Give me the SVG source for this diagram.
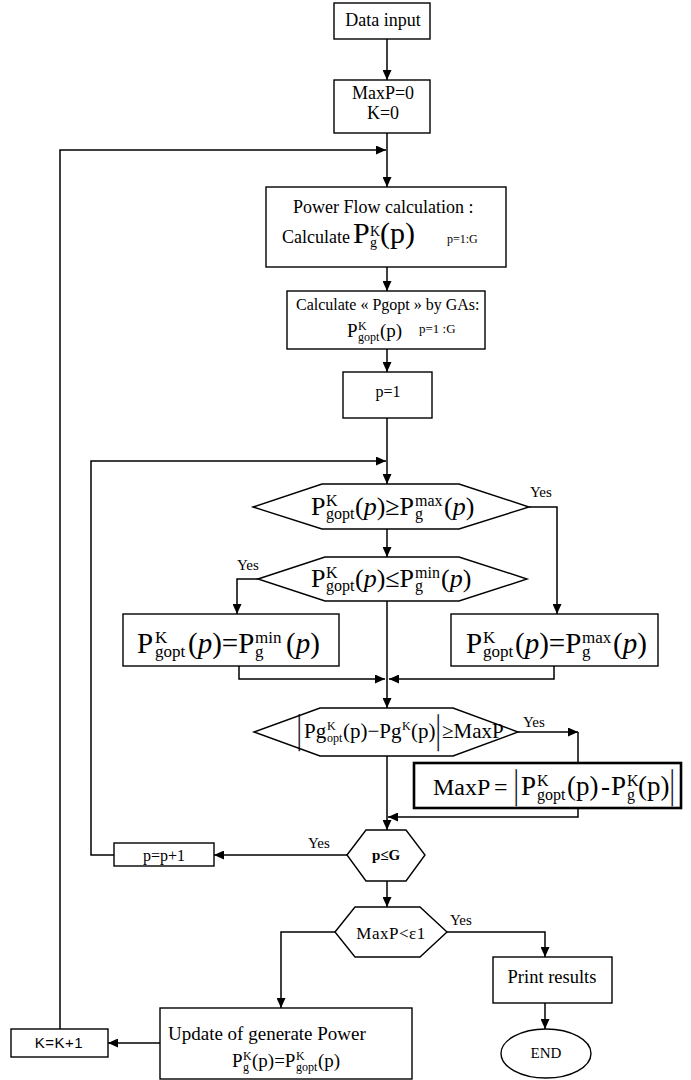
<svg xmlns="http://www.w3.org/2000/svg" width="691" height="1080" viewBox="0 0 691 1080">
<defs>
<style>
.t{font-family:"Liberation Serif","Times New Roman",serif;fill:#000}
.s{font-family:"Liberation Sans",Arial,sans-serif;fill:#000}
.box{fill:#fff;stroke:#000;stroke-width:1.4}
.ln{fill:none;stroke:#000;stroke-width:1.5}
.y{font-size:15px}
.i{font-style:italic}
.bar{font-family:"Liberation Serif","Times New Roman",serif;font-size:22px;fill:#000;stroke:#000;stroke-width:0.15}
</style>
<marker id="ah" markerUnits="userSpaceOnUse" markerWidth="10" markerHeight="9" refX="10" refY="4.5" orient="auto">
<path d="M0,0 L10,4.5 L0,9 z" fill="#000"/>
</marker>
</defs>
<rect width="691" height="1080" fill="#fff"/>

<g id="connectors">
<path class="ln" d="M387,39 V80" marker-end="url(#ah)"/>
<path class="ln" d="M387,133 V187" marker-end="url(#ah)"/>
<path class="ln" d="M60,1029 V150 H386" marker-end="url(#ah)"/>
<path class="ln" d="M387,267 V291" marker-end="url(#ah)"/>
<path class="ln" d="M387,349 V372" marker-end="url(#ah)"/>
<path class="ln" d="M387,418 V484" marker-end="url(#ah)"/>
<path class="ln" d="M114,855 H91 V461 H386" marker-end="url(#ah)"/>
<path class="ln" d="M387,529 V557" marker-end="url(#ah)"/>
<path class="ln" d="M529,507 H557 V614" marker-end="url(#ah)"/>
<path class="ln" d="M258,579 H237 V614" marker-end="url(#ah)"/>
<path class="ln" d="M387,601 V708" marker-end="url(#ah)"/>
<path class="ln" d="M239,666 V679 H385" marker-end="url(#ah)"/>
<path class="ln" d="M554,666 V679 H389" marker-end="url(#ah)"/>
<path class="ln" d="M518,732 H578" marker-end="url(#ah)"/>
<path class="ln" d="M578,732 V763"/>
<path class="ln" d="M578,808 V817 H388" marker-end="url(#ah)"/>
<path class="ln" d="M387,756 V830" marker-end="url(#ah)"/>
<path class="ln" d="M347,855 H214" marker-end="url(#ah)"/>
<path class="ln" d="M387,881 V907" marker-end="url(#ah)"/>
<path class="ln" d="M447,932 H545 V957" marker-end="url(#ah)"/>
<path class="ln" d="M335,932 H281 V1008" marker-end="url(#ah)"/>
<path class="ln" d="M545,1003 V1029" marker-end="url(#ah)"/>
<path class="ln" d="M160,1043 H108" marker-end="url(#ah)"/>
</g>

<g id="data-input">
<rect class="box" x="334" y="3" width="96" height="36"/>
<text class="t" x="383" y="26" font-size="18" text-anchor="middle">Data input</text>
</g>

<g id="init">
<rect class="box" x="334" y="80" width="96" height="53"/>
<text class="t" x="383" y="99" font-size="18" text-anchor="middle">MaxP=0</text>
<text class="t" x="383" y="119" font-size="18" text-anchor="middle">K=0</text>
</g>

<g id="power-flow">
<rect class="box" x="266" y="187" width="240" height="80"/>
<text class="t" x="293" y="213" font-size="18">Power Flow calculation :</text>
<text class="t" y="243"><tspan x="282" font-size="18">Calculate</tspan><tspan x="353" font-size="30">P</tspan><tspan x="370" y="236" font-size="14">K</tspan><tspan x="370" y="247" font-size="14">g</tspan><tspan x="380" y="243" font-size="30">(p)</tspan><tspan x="447" y="243" font-size="12">p=1:G</tspan></text>
</g>

<g id="calc-pgopt">
<rect class="box" x="287" y="291" width="198" height="58"/>
<text class="t" x="296" y="310" font-size="16">Calculate « Pgopt »  by GAs:</text>
<text class="t" y="337"><tspan x="347" font-size="19">P</tspan><tspan x="358" y="330" font-size="12">K</tspan><tspan x="358" y="341" font-size="12">gopt</tspan><tspan x="380" y="337" font-size="19">(p)</tspan><tspan x="419" y="333" font-size="13">p=1 :G</tspan></text>
</g>

<g id="p-init">
<rect class="box" x="343" y="372" width="89" height="46"/>
<text class="t" x="388" y="397" font-size="16" text-anchor="middle">p=1</text>
</g>

<g id="test-max">
<polygon class="box" points="253,507 322,484 459,484 529,507 459,529 322,529"/>
<text class="t" font-size="26" y="515"><tspan x="311">P</tspan><tspan x="326" y="506" font-size="16">K</tspan><tspan x="326" y="519" font-size="16">gopt</tspan><tspan x="355" y="515">(<tspan class="i">p</tspan>)≥P</tspan><tspan x="415" y="506" font-size="16">max</tspan><tspan x="415" y="519" font-size="16">g</tspan><tspan x="444" y="515">(<tspan class="i">p</tspan>)</tspan></text>
<text class="t y" x="530" y="497">Yes</text>
</g>

<g id="test-min">
<polygon class="box" points="258,579 325,557 459,557 527,579 459,601 325,601"/>
<text class="t" font-size="26" y="587"><tspan x="311">P</tspan><tspan x="326" y="578" font-size="16">K</tspan><tspan x="326" y="591" font-size="16">gopt</tspan><tspan x="355" y="587">(<tspan class="i">p</tspan>)≤P</tspan><tspan x="415" y="578" font-size="16">min</tspan><tspan x="415" y="591" font-size="16">g</tspan><tspan x="441" y="587">(<tspan class="i">p</tspan>)</tspan></text>
<text class="t y" x="237" y="570">Yes</text>
</g>

<g id="set-min">
<rect class="box" x="123" y="614" width="216" height="52"/>
<text class="t" font-size="29" y="653"><tspan x="137">P</tspan><tspan x="155" y="643" font-size="17">K</tspan><tspan x="155" y="657" font-size="17">gopt</tspan><tspan x="188" y="653">(<tspan class="i">p</tspan>)=P</tspan><tspan x="255" y="643" font-size="17">min</tspan><tspan x="255" y="657" font-size="17">g</tspan><tspan x="286" y="653">(<tspan class="i">p</tspan>)</tspan></text>
</g>

<g id="set-max">
<rect class="box" x="451" y="614" width="207" height="52"/>
<text class="t" font-size="29" y="653"><tspan x="466">P</tspan><tspan x="483" y="643" font-size="17">K</tspan><tspan x="483" y="657" font-size="17">gopt</tspan><tspan x="515" y="653">(<tspan class="i">p</tspan>)=P</tspan><tspan x="582" y="643" font-size="17">max</tspan><tspan x="582" y="657" font-size="17">g</tspan><tspan x="613" y="653">(<tspan class="i">p</tspan>)</tspan></text>
</g>

<g id="test-diff">
<polygon class="box" points="254,732 320,708 453,708 518,732 453,756 320,756"/>
<text class="bar" transform="translate(297,742) scale(1,1.85)">|</text>
<text class="t" font-size="21" y="738"><tspan x="304">Pg</tspan><tspan x="327" y="730" font-size="12">K</tspan><tspan x="327" y="742" font-size="12">opt</tspan><tspan x="343" y="738">(p)−Pg</tspan><tspan x="402" y="730" font-size="12">K</tspan><tspan x="411" y="738">(p)</tspan><tspan x="442" y="738">≥MaxP</tspan></text>
<text class="bar" transform="translate(436,742) scale(1,1.85)">|</text>
<text class="t y" x="523" y="727">Yes</text>
</g>

<g id="update-maxp">
<rect x="414" y="763" width="267" height="45" fill="#fff" stroke="#000" stroke-width="2.6"/>
<text class="t" font-size="27" y="795"><tspan x="433" font-size="24">MaxP</tspan><tspan x="494" font-size="24">=</tspan><tspan x="521" y="795">P</tspan><tspan x="537" y="786" font-size="16">K</tspan><tspan x="537" y="800" font-size="16">gopt</tspan><tspan x="567" y="795">(p)</tspan><tspan x="601" y="795">-</tspan><tspan x="611" y="795">P</tspan><tspan x="627" y="786" font-size="16">K</tspan><tspan x="627" y="800" font-size="16">g</tspan><tspan x="638" y="795">(p)</tspan></text>
<text class="bar" transform="translate(514,797) scale(1,1.8)">|</text>
<text class="bar" transform="translate(670,797) scale(1,1.8)">|</text>
</g>

<g id="test-p">
<polygon class="box" points="347,855 366,830 406,830 425,855 406,881 366,881"/>
<text class="t" x="386" y="860" font-size="15" font-weight="bold" text-anchor="middle">p≤G</text>
<text class="t y" x="308" y="848">Yes</text>
</g>

<g id="p-incr">
<rect class="box" x="114" y="843" width="100" height="23"/>
<text class="t" x="164" y="861" font-size="16" text-anchor="middle">p=p+1</text>
</g>

<g id="test-conv">
<polygon class="box" points="335,932 355,907 420,907 447,932 420,957 355,957"/>
<text class="t" x="391" y="939" font-size="17" letter-spacing="0.5" text-anchor="middle">MaxP&lt;ε1</text>
<text class="t y" x="450" y="925">Yes</text>
</g>

<g id="print">
<rect class="box" x="493" y="957" width="119" height="46"/>
<text class="t" x="552" y="983" font-size="18.5" text-anchor="middle">Print results</text>
</g>

<g id="end">
<ellipse class="box" cx="546" cy="1053.5" rx="45" ry="24.5"/>
<text class="t" x="546" y="1058" font-size="15" text-anchor="middle">END</text>
</g>

<g id="update-power">
<rect class="box" x="160" y="1008" width="252" height="71"/>
<text class="t" x="168" y="1040" font-size="19">Update of generate Power</text>
<text class="t" font-size="19" y="1067"><tspan x="232">P</tspan><tspan x="243" y="1060" font-size="12">K</tspan><tspan x="243" y="1071" font-size="12">g</tspan><tspan x="252" y="1067">(p)=P</tspan><tspan x="296" y="1060" font-size="12">K</tspan><tspan x="296" y="1071" font-size="12">gopt</tspan><tspan x="318" y="1067">(p)</tspan></text>
</g>

<g id="k-incr">
<rect class="box" x="11" y="1029" width="97" height="28"/>
<text class="s" x="59" y="1048" font-size="15" letter-spacing="0.5" text-anchor="middle">K=K+1</text>
</g>
</svg>
